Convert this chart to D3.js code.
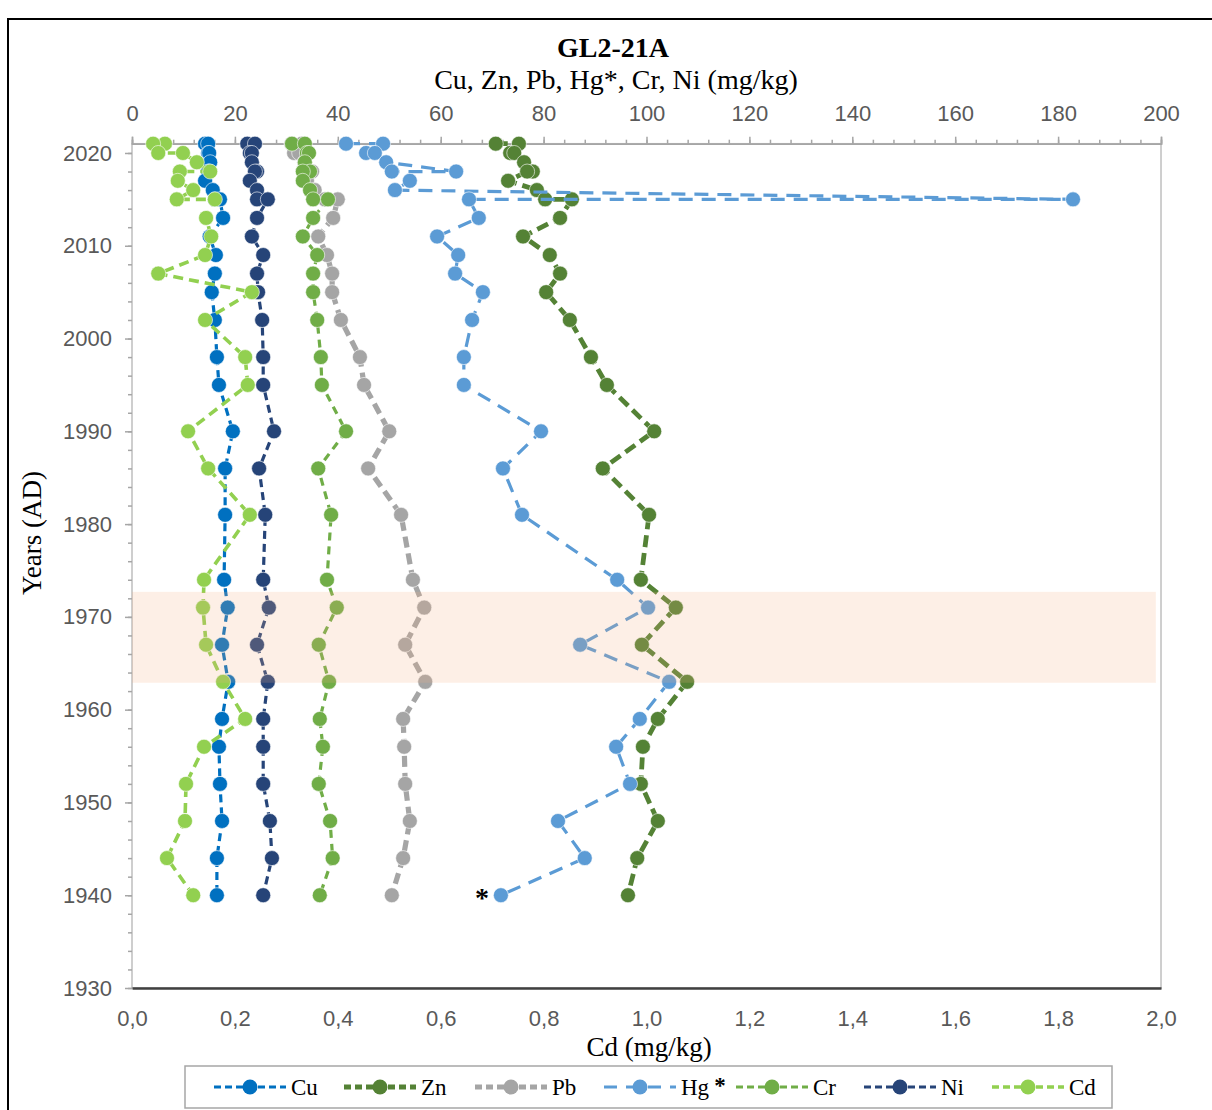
<html>
<head>
<script src="https://cdn.jsdelivr.net/npm/d3@7"></script>
<style>
body{ margin:0; background:#fff; }
svg{ display:block; }
.tick text{ font-family:"Liberation Sans", Arial, sans-serif; font-size:22px; fill:#595959; }
.serif{ font-family:"Liberation Serif", "Times New Roman", serif; fill:#000; }
</style>
</head>
<body></body>
<script>
const width = 1212;
const height = 1110;

// sample years (top has a few double samples per year)
const years = [2021,2021,2020,2020,2019,2018,2018,2017,2016,2015,2015,2013,2011,2009,2007,2005,2002,1998,1995,1990,1986,1981,1974,1971,1967,1963,1959,1956,1952,1948,1944,1940];

const cu = [14.2,14.8,14.8,15.0,15.2,14.8,15.0,14.2,15.7,16.1,17.1,17.7,15.1,16.3,16.1,15.5,16.1,16.5,16.9,19.6,18.1,18.1,17.9,18.6,17.5,18.7,17.5,16.9,17.1,17.5,16.5,16.5];
const zn = [70.7,75.2,73.5,74.3,76.2,77.9,76.8,73.1,78.7,80.3,85.5,83.2,76.0,81.2,83.2,80.5,85.1,89.2,92.3,101.5,91.5,100.5,98.9,105.7,99.1,107.9,102.2,99.3,98.9,102.2,98.2,96.4];
const pb = [31.0,33.0,31.5,32.5,33.5,35.0,34.5,34.0,35.5,37.5,40.0,39.1,36.2,37.9,38.9,38.9,40.6,44.3,45.1,50.0,45.9,52.3,54.6,56.8,53.1,57.0,52.7,52.9,53.1,54.0,52.7,50.5];
const hg = [41.6,48.8,45.5,47.2,49.4,63.0,50.5,54.0,51.1,182.9,65.5,67.4,59.3,63.4,62.8,68.2,66.1,64.5,64.5,79.5,72.1,75.8,94.3,100.3,87.1,104.4,98.7,94.1,96.8,82.8,88.0,71.7];
const cr = [31.1,33.6,34.0,34.4,33.6,34.6,33.2,33.2,34.6,35.2,38.1,35.2,33.2,36.0,35.2,35.2,36.0,36.7,36.9,41.6,36.2,38.7,37.9,39.8,36.3,38.3,36.5,37.1,36.3,38.5,39.0,36.5];
const ni = [22.4,23.9,22.9,23.3,23.3,24.3,23.9,22.9,24.3,24.3,26.4,24.3,23.3,25.5,24.3,24.5,25.3,25.5,25.5,27.6,24.7,25.9,25.5,26.6,24.3,26.4,25.5,25.5,25.5,26.8,27.2,25.5];
const cd = [0.064,0.041,0.051,0.099,0.126,0.152,0.093,0.089,0.119,0.087,0.161,0.144,0.154,0.142,0.051,0.233,0.142,0.220,0.225,0.109,0.148,0.229,0.140,0.138,0.144,0.177,0.220,0.140,0.105,0.103,0.068,0.119];

const metalTicks = [0,20,40,60,80,100,120,140,160,180,200];
const cdTicks = [0,0.2,0.4,0.6,0.8,1.0,1.2,1.4,1.6,1.8,2.0];
const yearTicks = [1930,1940,1950,1960,1970,1980,1990,2000,2010,2020];
const band = [1962.9, 1972.7];

const series = [
  {name:'Cu', values:cu, axis:'top', color:'#0070C0', w:3.2, dash:'8,5'},
  {name:'Zn', values:zn, axis:'top', color:'#548235', w:4.8, dash:'12,6'},
  {name:'Pb', values:pb, axis:'top', color:'#A5A5A5', w:5.2, dash:'11,6'},
  {name:'Hg', values:hg, axis:'top', color:'#5B9BD5', w:3.2, dash:'14,9'},
  {name:'Cr', values:cr, axis:'top', color:'#70AD47', w:3.2, dash:'8,6'},
  {name:'Ni', values:ni, axis:'top', color:'#264478', w:3.2, dash:'8,5'},
  {name:'Cd', values:cd, axis:'bottom', color:'#92D050', w:3.6, dash:'10,6'}
];

const x = d3.scaleLinear().domain([0,200]).range([132,1161]);
const xCd = d3.scaleLinear().domain([0,2]).range([132,1161]);
const y = d3.scaleLinear().domain([1930,2021]).range([988,143.7]);

const svg = d3.select('body').append('svg')
    .attr('width',width)
    .attr('height',height);

// outer chart frame
svg.append('rect')
    .attr('x',8).attr('y',19)
    .attr('width',1230).attr('height',1120)
    .attr('fill','#fff').attr('stroke','#000').attr('stroke-width',2);

// plot border
svg.append('rect')
    .attr('x',x(0)).attr('y',y(2021))
    .attr('width',x(200)-x(0)).attr('height',y(1930)-y(2021))
    .attr('fill','none').attr('stroke','#BFBFBF').attr('stroke-width',1.5);

// top axis
svg.append('g')
    .attr('transform',`translate(0,${y(2021)})`)
    .call(d3.axisTop(x).tickValues(d3.range(0,201,4)).tickSize(4).tickFormat(''))
    .call(g=>g.selectAll('line,path').attr('stroke','#A6A6A6').attr('stroke-width',1.5));
svg.append('g')
    .attr('transform',`translate(0,${y(2021)})`)
    .call(d3.axisTop(x).tickValues(metalTicks).tickSize(7).tickPadding(16))
    .call(g=>g.selectAll('line,path').attr('stroke','#A6A6A6').attr('stroke-width',1.5));

// left axis
svg.append('g')
    .attr('transform',`translate(${x(0)},0)`)
    .call(d3.axisLeft(y).tickValues(d3.range(1930,2021,2)).tickSize(4).tickFormat(''))
    .call(g=>g.select('path').remove())
    .call(g=>g.selectAll('line').attr('stroke','#A6A6A6').attr('stroke-width',1.5));
svg.append('g')
    .attr('transform',`translate(${x(0)},0)`)
    .call(d3.axisLeft(y).tickValues(yearTicks).tickSize(7).tickPadding(13).tickFormat(d3.format('d')))
    .call(g=>g.select('path').remove())
    .call(g=>g.selectAll('line').attr('stroke','#A6A6A6').attr('stroke-width',1.5));

// bottom axis (Cd)
svg.append('g')
    .attr('transform',`translate(0,${y(1930)})`)
    .call(d3.axisBottom(xCd).tickValues(cdTicks).tickSize(0).tickPadding(22)
        .tickFormat(d=>d.toFixed(1).replace('.',',')))
    .call(g=>g.select('path').attr('stroke','#404040').attr('stroke-width',2.5));

// series
series.forEach(s=>{
  const sx = s.axis==='top' ? x : xCd;
  const pts = s.values.map((v,i)=>[v, years[i]]);
  const line = d3.line().x(d=>sx(d[0])).y(d=>y(d[1]));
  svg.append('path')
      .datum(pts)
      .attr('d',line)
      .attr('fill','none')
      .attr('stroke',s.color)
      .attr('stroke-width',s.w)
      .attr('stroke-dasharray',s.dash);
  svg.append('g').selectAll('circle')
      .data(pts)
      .enter()
    .append('circle')
      .attr('cx',d=>sx(d[0]))
      .attr('cy',d=>y(d[1]))
      .attr('r',7.5)
      .attr('fill',s.color)
      .attr('stroke','#fff')
      .attr('stroke-width',0.6);
});

// highlighted period
svg.append('rect')
    .attr('x',x(0)).attr('y',y(band[1]))
    .attr('width',x(199)-x(0)).attr('height',y(band[0])-y(band[1]))
    .attr('fill','#F4B183').attr('opacity',0.2);

// asterisk by the oldest Hg value
svg.append('text').attr('class','serif')
    .attr('x',x(hg[hg.length-1])-12).attr('y',y(1940)+12)
    .attr('text-anchor','end')
    .attr('font-size',28).attr('font-weight','bold')
    .text('*');

// titles
svg.append('text').attr('class','serif')
    .attr('x',613).attr('y',57).attr('text-anchor','middle')
    .attr('font-size',28).attr('font-weight','bold')
    .text('GL2-21A');
svg.append('text').attr('class','serif')
    .attr('x',616).attr('y',89).attr('text-anchor','middle')
    .attr('font-size',28)
    .text('Cu, Zn, Pb, Hg*, Cr, Ni (mg/kg)');
svg.append('text').attr('class','serif')
    .attr('x',649).attr('y',1056).attr('text-anchor','middle')
    .attr('font-size',27)
    .text('Cd (mg/kg)');
svg.append('text').attr('class','serif')
    .attr('transform','translate(41,533) rotate(-90)')
    .attr('text-anchor','middle')
    .attr('font-size',27)
    .text('Years (AD)');

// legend
const legend = svg.append('g');
legend.append('rect')
    .attr('x',185).attr('y',1066)
    .attr('width',927).attr('height',42)
    .attr('fill','#fff').attr('stroke','#A6A6A6').attr('stroke-width',1.5);
const legendX = [250,380,511,640,772,900,1028];
series.forEach((s,i)=>{
  const g = legend.append('g').attr('transform',`translate(${legendX[i]},1087)`);
  g.append('line')
      .attr('x1',-36).attr('x2',36)
      .attr('stroke',s.color).attr('stroke-width',s.w)
      .attr('stroke-dasharray',s.name==='Hg' ? '13,9' : '7,4');
  g.append('circle').attr('r',7.5).attr('fill',s.color);
  const t = g.append('text').attr('class','serif')
      .attr('x',41).attr('y',8)
      .attr('font-size',23)
      .text(s.name);
  if(s.name==='Hg'){
    t.append('tspan').attr('dx',5).attr('dy',-2).attr('font-weight','bold').text('*');
  }
});
</script>
</html>
